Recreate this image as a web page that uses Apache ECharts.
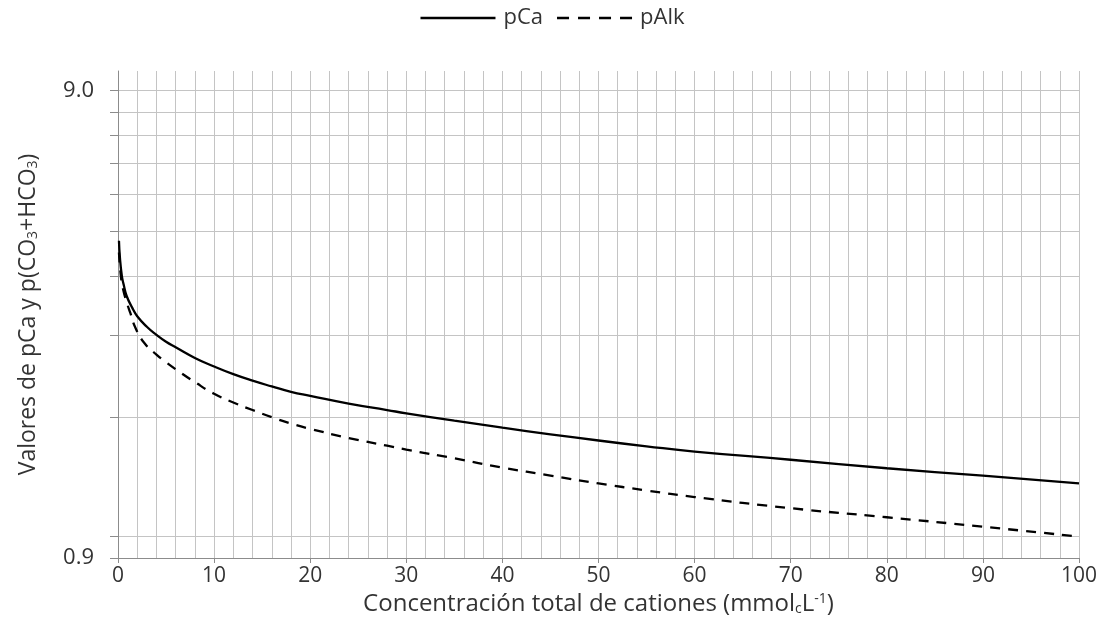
<!DOCTYPE html>
<html>
<head>
<meta charset="utf-8">
<script src="https://cdn.jsdelivr.net/npm/echarts@6/dist/echarts.min.js"></script>
<style>html,body{margin:0;padding:0;background:#fff}#c{width:1105px;height:625px}</style>
</head>
<body>
<div id="c"></div>
<script>
// x: concentration (mmolc/L)
const pCaX   = [0.1, 0.2, 0.4, 0.6, 0.9, 1.5, 2, 3, 4, 5, 6, 8, 10, 12, 14, 16, 18, 20, 24, 28, 30, 35, 40, 45, 50, 55, 60, 70, 80, 90, 100];
const pCaY   = [4.29, 3.95, 3.61, 3.45, 3.27, 3.08, 2.96, 2.81, 2.70, 2.61, 2.54, 2.41, 2.31, 2.225, 2.155, 2.095, 2.04, 2.00, 1.925, 1.865, 1.835, 1.77, 1.71, 1.655, 1.605, 1.56, 1.52, 1.46, 1.40, 1.35, 1.30];
const pAlkX  = [0.1, 0.26, 0.5, 0.95, 1.3, 1.8, 2.7, 4, 5, 6, 8, 10, 12, 14, 16, 18, 20, 24, 28, 30, 35, 40, 45, 50, 55, 60, 70, 80, 90, 100];
const pAlkY  = [4.05, 3.67, 3.40, 3.15, 3.00, 2.80, 2.60, 2.45, 2.36, 2.28, 2.14, 2.02, 1.935, 1.865, 1.80, 1.745, 1.70, 1.625, 1.565, 1.535, 1.47, 1.405, 1.35, 1.30, 1.255, 1.215, 1.15, 1.10, 1.05, 1.00];
const yLabelValues = [0.9, 9.0];
const yGridValues  = [0.9, 1.0, 1.8, 2.7, 3.6, 4.5, 5.4, 6.3, 7.2, 8.1, 9.0];

const zip = (xs, ys) => xs.map((x, i) => [x, ys[i]]);
const FONT = '"Open Sans", sans-serif';
const TXT = '#333333';
const AXIS = '#8c8c8c';
const GRID = '#c4c4c4';

const SOLID_ICON = 'path://M0,0h75v2.4h-75z';
const DASH_ICON  = 'path://M0,0h12v2.4h-12z M21,0h12v2.4h-12z M42,0h12v2.4h-12z M63,0h12v2.4h-12z';

const chart = echarts.init(document.getElementById('c'), null, {renderer: 'canvas'});
chart.setOption({
  animation: false,
  textStyle: {fontFamily: FONT, color: TXT},
  legend: {
    top: 2, left: 'center',
    itemWidth: 75, itemHeight: 2.4, itemGap: 14,
    textStyle: {fontFamily: FONT, fontSize: 22, color: TXT, padding: [0, 0, 0, 3]},
    data: [
      {name: 'pCa', icon: SOLID_ICON, itemStyle: {color: '#000'}},
      {name: 'pAlk', icon: DASH_ICON, itemStyle: {color: '#000'}}
    ]
  },
  grid: {left: 118, right: 26, top: 71, bottom: 67, containLabel: false},
  xAxis: {
    type: 'value', min: 0, max: 100, interval: 10,
    name: 'Concentración total de cationes (mmol{sub|c}L{sup|-1})',
    nameLocation: 'middle', nameGap: 31,
    nameTextStyle: {
      fontFamily: FONT, fontSize: 24, color: TXT,
      rich: {
        sub: {fontFamily: FONT, fontSize: 14, color: TXT, verticalAlign: 'bottom', padding: [10, 0, 0, 0]},
        sup: {fontFamily: FONT, fontSize: 14, color: TXT, verticalAlign: 'top', padding: [0, 0, 10, 0]}
      }
    },
    axisLine: {show: true, lineStyle: {color: AXIS, width: 1}},
    axisTick: {show: true, length: 5, lineStyle: {color: AXIS}},
    axisLabel: {fontFamily: FONT, fontSize: 21, color: TXT, margin: 8},
    splitLine: {show: true, lineStyle: {color: GRID, width: 1}},
    minorTick: {show: false, splitNumber: 5},
    minorSplitLine: {show: true, lineStyle: {color: GRID, width: 1}}
  },
  yAxis: {
    type: 'log', logBase: 10, min: 0.9, max: 9.9,
    name: 'Valores de pCa y p(CO{sub|3}+HCO{sub|3})',
    nameLocation: 'middle', nameGap: 78, nameRotate: 90,
    nameTextStyle: {
      fontFamily: FONT, fontSize: 23, color: TXT,
      rich: {
        sub: {fontFamily: FONT, fontSize: 14, color: TXT, verticalAlign: 'bottom', padding: [10, 0, 0, 0]}
      }
    },
    axisLine: {show: true, lineStyle: {color: AXIS, width: 1}},
    axisTick: {show: true, length: 8, lineStyle: {color: AXIS}, customValues: yGridValues},
    axisLabel: {
      fontFamily: FONT, fontSize: 22, color: TXT, margin: 24,
      customValues: yLabelValues,
      formatter: v => Number(v).toFixed(1)
    },
    splitLine: {show: true, lineStyle: {color: GRID, width: 1}},
    minorTick: {show: false},
    minorSplitLine: {show: false}
  },
  series: [
    {
      name: 'pCa', type: 'line', data: zip(pCaX, pCaY),
      showSymbol: false, symbol: 'none', smooth: 0.5,
      lineStyle: {color: '#000', width: 2.3, type: 'solid'},
      itemStyle: {color: '#000'}, z: 5
    },
    {
      name: 'pAlk', type: 'line', data: zip(pAlkX, pAlkY),
      showSymbol: false, symbol: 'none', smooth: 0.5,
      lineStyle: {color: '#000', width: 2.3, type: [10, 8]},
      itemStyle: {color: '#000'}, z: 5
    }
  ]
});
</script>
</body>
</html>
